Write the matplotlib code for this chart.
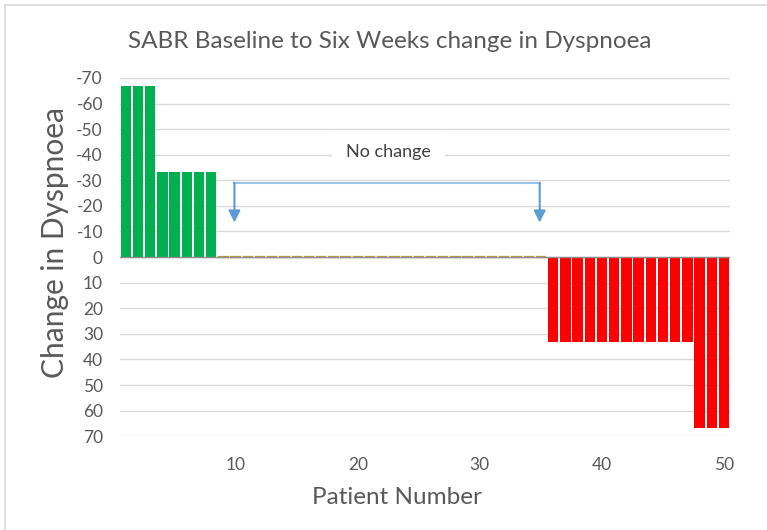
import matplotlib.pyplot as plt
from matplotlib.lines import Line2D

plt.rcParams['font.family'] = ['Lato', 'DejaVu Sans']
plt.rcParams['axes.unicode_minus'] = False

# change in dyspnoea score per patient, baseline -> six weeks
patients = list(range(1, 51))
change = [-66.7, -66.7, -66.7,
          -33.3, -33.3, -33.3, -33.3, -33.3,
          0, 0, 0, 0, 0, 0, 0, 0, 0, 0, 0, 0, 0, 0, 0, 0, 0, 0, 0, 0, 0, 0, 0, 0, 0, 0, 0,
          33.3, 33.3, 33.3, 33.3, 33.3, 33.3, 33.3, 33.3, 33.3, 33.3, 33.3, 33.3,
          66.7, 66.7, 66.7]
y_ticks = [-70, -60, -50, -40, -30, -20, -10, 0, 10, 20, 30, 40, 50, 60, 70]
x_ticks = [10, 20, 30, 40, 50]

# "no change" bracket spans patients 9..35
bracket_start, bracket_end = 9.9, 34.9
bracket_level, arrow_tip = -29, -13.5

def bar_colour(v):
    if v < 0:
        return '#00B050'
    if v > 0:
        return '#FF0000'
    return '#C09A3A'

fig = plt.figure(figsize=(7.67, 5.30), dpi=100)
ax = fig.add_axes([0.156, 0.177, 0.796, 0.676])

colours = [bar_colour(v) for v in change]
ax.bar(patients, change, width=0.85, color=colours, edgecolor=colours,
       linewidth=[1.6 if v == 0 else 0 for v in change], zorder=3)

ax.set_xlim(0.5, 50.5)
ax.set_ylim(70, -70)
ax.set_yticks(y_ticks)
ax.set_yticklabels([str(t) for t in y_ticks])
ax.set_xticks(x_ticks)
ax.tick_params(length=0, labelsize=12.5, colors='#595959')
ax.tick_params(axis='y', pad=12)
ax.tick_params(axis='x', pad=15)
ax.grid(axis='y', color='#D9D9D9', linewidth=1, zorder=0)
ax.axhline(0, color='#8C8C8C', linewidth=1, zorder=4)
for s in ax.spines.values():
    s.set_visible(False)

fig.text(0.517, 0.062, 'Patient Number', ha='center', va='center',
         fontsize=17.5, color='#595959')
fig.text(0.072, 0.543, 'Change in Dyspnoea', ha='center', va='center',
         rotation=90, fontsize=21.5, color='#595959')
fig.text(0.508, 0.921, 'SABR Baseline to Six Weeks change in Dyspnoea',
         ha='center', va='center', fontsize=17.5, color='#595959')

# bracket with arrows marking the unchanged patients
ax.plot([bracket_start, bracket_end], [bracket_level, bracket_level],
        color='#9DC3E6', linewidth=1.5, zorder=5)
for xb in (bracket_start, bracket_end):
    ax.annotate('', xy=(xb, arrow_tip), xytext=(xb, bracket_level),
                arrowprops=dict(arrowstyle='-|>,head_width=0.35,head_length=0.7',
                                color='#5B9BD5', lw=1.5, shrinkA=0, shrinkB=0),
                zorder=5)
ax.text(22.5, -41, 'No change', ha='center', va='center', fontsize=13,
        color='#404040', zorder=6,
        bbox=dict(facecolor='white', edgecolor='none', pad=10))

# chart frame
fig.add_artist(Line2D([0.0065, 0.0065], [0.0, 0.99], color='#D9D9D9', linewidth=1.2))
fig.add_artist(Line2D([0.0065, 1.0], [0.99, 0.99], color='#D9D9D9', linewidth=1.2))

fig.savefig('out.png', dpi=100)
